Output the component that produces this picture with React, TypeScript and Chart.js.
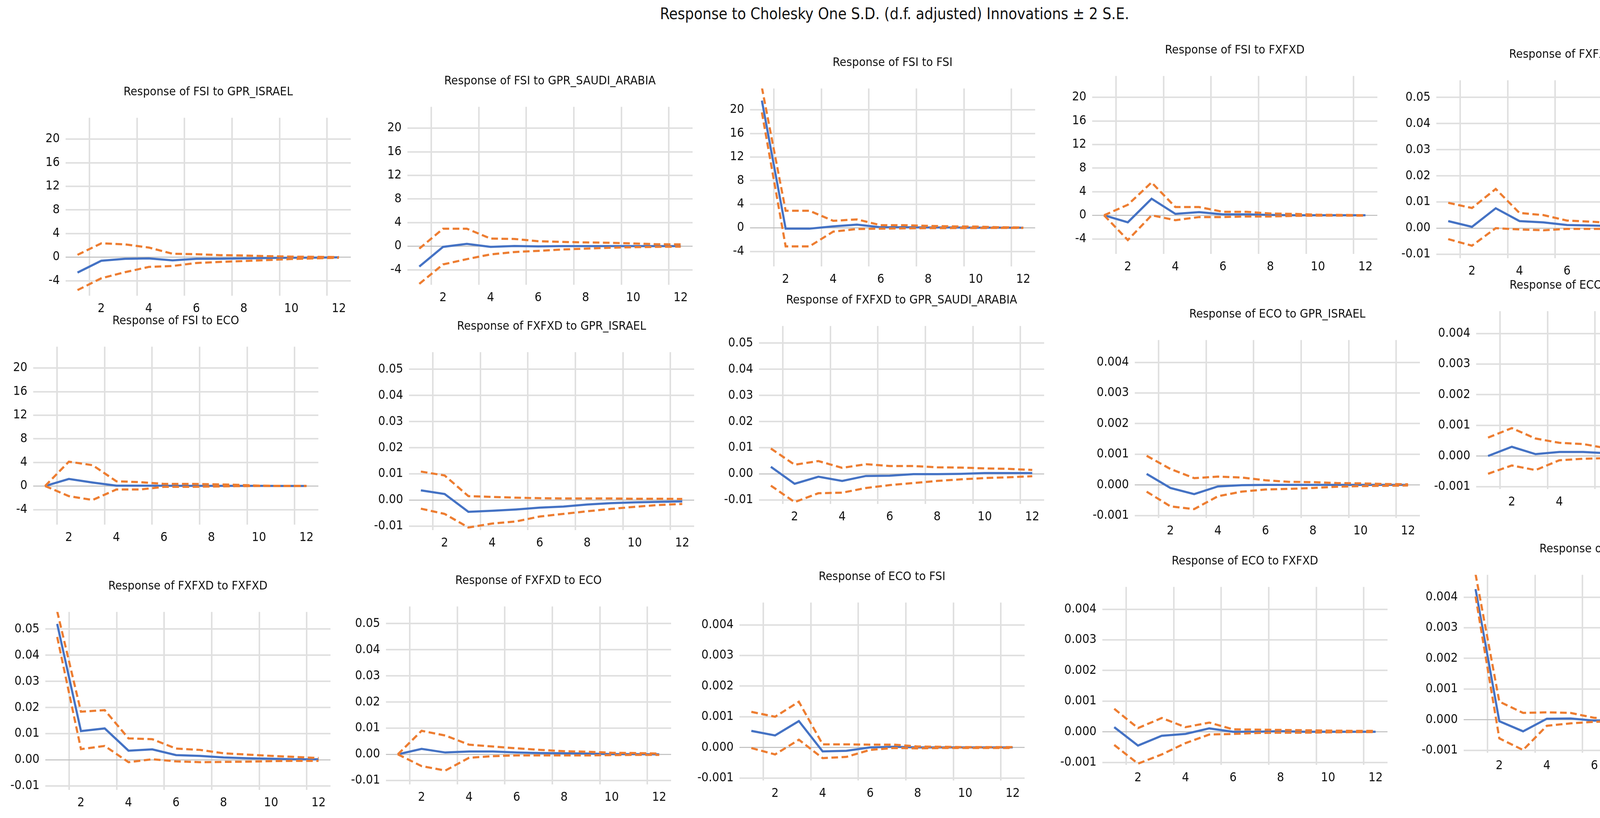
import React, { useEffect, useRef } from 'react';
import { Chart, registerables } from 'chart.js';

Chart.register(...registerables);

// ---------------- data ----------------
const PERIODS = [1, 2, 3, 4, 5, 6, 7, 8, 9, 10, 11, 12];
const X_TICKS = [1.5, 2, 3.5, 4, 5.5, 6, 7.5, 8, 9.5, 10, 11.5, 12];
const FSI_TICKS = [-4, 0, 4, 8, 12, 16, 20];
const FXFXD_TICKS = [-0.01, 0, 0.01, 0.02, 0.03, 0.04, 0.05];
const ECO_TICKS = [-0.001, 0, 0.001, 0.002, 0.003, 0.004];

const MAIN_TITLE = 'Response to Cholesky One S.D. (d.f. adjusted) Innovations \u00b1 2 S.E.';

// Row 1
const fsiIsraelResp = [-2.62, -0.62, -0.29, -0.22, -0.56, -0.29, -0.27, -0.22, -0.16, -0.11, -0.09, -0.04];
const fsiIsraelUpper = [0.38, 2.33, 2.16, 1.62, 0.56, 0.49, 0.33, 0.27, 0.16, 0.07, 0.04, 0.0];
const fsiIsraelLower = [-5.6, -3.6, -2.56, -1.67, -1.51, -1.0, -0.82, -0.67, -0.51, -0.33, -0.22, -0.11];

const fsiSaudiResp = [-3.46, -0.12, 0.39, -0.12, 0.02, -0.05, 0.0, 0.0, 0.0, 0.0, 0.0, 0.0];
const fsiSaudiUpper = [-0.42, 2.96, 2.96, 1.28, 1.22, 0.84, 0.72, 0.63, 0.57, 0.45, 0.33, 0.3];
const fsiSaudiLower = [-6.39, -3.1, -2.2, -1.4, -1.0, -0.8, -0.57, -0.42, -0.27, -0.18, -0.12, -0.09];

const fsiFsiResp = [21.56, -0.15, -0.15, 0.24, 0.53, 0.09, 0.09, 0.06, 0.05, 0.03, 0.02, 0.0];
const fsiFsiUpper = [23.8, 2.89, 2.89, 1.18, 1.42, 0.44, 0.44, 0.32, 0.24, 0.2, 0.09, 0.06];
const fsiFsiLower = [19.56, -3.16, -3.16, -0.65, -0.21, -0.15, -0.09, -0.06, -0.05, -0.04, -0.03, -0.03];

const fsiFxResp = [0, -1.19, 2.81, 0.24, 0.53, 0.15, 0.15, 0.06, 0, 0, 0, 0];
const fsiFxUpper = [0, 1.78, 5.57, 1.39, 1.39, 0.59, 0.59, 0.3, 0.24, 0.09, 0.06, 0];
const fsiFxLower = [0, -4.2, 0, -0.83, -0.3, -0.3, -0.2, -0.2, -0.1, -0.06, -0.06, -0.06];

const fxFsiResp = [0.0027, 0.0005, 0.0076, 0.0027, 0.0022, 0.0012, 0.001, 0.0008, 0.0005, 0.0004, 0.0003, 0.0002];
const fxFsiUpper = [0.0097, 0.0077, 0.015, 0.0058, 0.005, 0.0029, 0.0025, 0.0019, 0.0015, 0.0011, 0.0009, 0.0008];
const fxFsiLower = [-0.0042, -0.0067, 0, -0.0005, -0.0008, -0.0003, -0.0003, -0.0003, -0.0002, -0.0001, -0.0001, -0.0001];

// Row 2
const fsiEcoResp = [0, 1.19, 0.59, 0.06, 0.06, 0.04, 0.03, 0.03, 0.03, 0.02, 0.01, 0];
const fsiEcoUpper = [0, 4.12, 3.53, 0.8, 0.65, 0.36, 0.36, 0.3, 0.21, 0.06, 0, 0];
const fsiEcoLower = [0, -1.72, -2.37, -0.59, -0.59, -0.15, -0.15, -0.09, -0.03, 0, 0, 0];

const fxIsraelResp = [0.0037, 0.0023, -0.0045, -0.0041, -0.0036, -0.0029, -0.0025, -0.0017, -0.0012, -0.0009, -0.0007, -0.0005];
const fxIsraelUpper = [0.0109, 0.0094, 0.0015, 0.0012, 0.0009, 0.0007, 0.0006, 0.0006, 0.0006, 0.0005, 0.0005, 0.0004];
const fxIsraelLower = [-0.0033, -0.0053, -0.0105, -0.009, -0.0082, -0.0063, -0.0053, -0.0043, -0.0034, -0.0026, -0.0019, -0.0015];

const fxSaudiResp = [0.0027, -0.0038, -0.0011, -0.0027, -0.0008, -0.0007, -0.0001, -0.0001, 0, 0.0003, 0.0003, 0.0003];
const fxSaudiUpper = [0.0097, 0.0035, 0.0049, 0.0023, 0.0037, 0.003, 0.003, 0.0025, 0.0024, 0.0021, 0.0019, 0.0015];
const fxSaudiLower = [-0.0045, -0.0108, -0.0074, -0.0072, -0.0054, -0.0043, -0.0035, -0.0027, -0.0021, -0.0016, -0.0013, -0.0009];

const ecoIsraelResp = [0.00036, -0.0001, -0.0003, -0.00005, -0.00001, 0, 0, 0, 0, 0, 0, 0];
const ecoIsraelUpper = [0.00095, 0.00052, 0.00022, 0.00027, 0.00024, 0.00015, 0.0001, 0.00009, 0.00006, 0.00005, 0.00003, 0.00002];
const ecoIsraelLower = [-0.00022, -0.0007, -0.00079, -0.00037, -0.00022, -0.00015, -0.00013, -0.0001, -0.00006, -0.00004, -0.00003, -0.00002];

const ecoSaudiResp = [0, 0.0003, 0.00006, 0.00013, 0.00013, 0.00009, 0.00007, 0.00005, 0.00003, 0.00002, 0.00001, 0];
const ecoSaudiUpper = [0.0006, 0.00091, 0.00057, 0.00043, 0.00039, 0.00025, 0.00019, 0.00016, 0.00013, 0.0001, 0.00009, 0.00005];
const ecoSaudiLower = [-0.00058, -0.00031, -0.00046, -0.00014, -0.00009, -0.00007, -0.00006, -0.00005, -0.00004, -0.00003, -0.00003, -0.00002];

// Row 3
const fxFxResp = [0.052, 0.011, 0.012, 0.0035, 0.004, 0.0018, 0.0015, 0.0009, 0.0006, 0.0004, 0.0002, 0.0002];
const fxFxUpper = [0.0568, 0.0184, 0.019, 0.0082, 0.0079, 0.0043, 0.0038, 0.0025, 0.002, 0.0015, 0.0011, 0.0007];
const fxFxLower = [0.047, 0.0041, 0.0053, -0.0009, 0.0002, -0.0006, -0.0009, -0.0008, -0.0007, -0.0005, -0.0004, -0.0004];

const fxEcoResp = [0, 0.0021, 0.0007, 0.0011, 0.0011, 0.0007, 0.0005, 0.0004, 0.0003, 0.0001, 0.0001, 0];
const fxEcoUpper = [0, 0.009, 0.0072, 0.0037, 0.003, 0.0023, 0.0017, 0.0012, 0.001, 0.0006, 0.0005, 0.0003];
const fxEcoLower = [0, -0.0045, -0.0062, -0.0013, -0.0007, -0.0004, -0.0004, -0.0004, -0.0004, -0.0003, -0.0002, -0.0002];

const ecoFsiResp = [0.00054, 0.00039, 0.00086, -0.00013, -0.00011, 0, 0.00002, 0, 0, 0, 0, 0];
const ecoFsiUpper = [0.00116, 0.001, 0.00149, 0.0001, 0.0001, 0.00009, 0.00009, 0.00003, 0.00002, 0.00001, 0.00001, 0.00001];
const ecoFsiLower = [-0.00002, -0.00023, 0.00025, -0.00035, -0.00031, -0.00008, -0.00002, -0.00003, -0.00002, -0.00002, -0.00002, -0.00002];

const ecoFxResp = [0.00015, -0.00045, -0.00013, -0.00007, 0.00011, 0, 0, 0.00002, 0, 0, 0, 0];
const ecoFxUpper = [0.00075, 0.00012, 0.00045, 0.00015, 0.0003, 0.00008, 0.00007, 0.00006, 0.00005, 0.00004, 0.00003, 0.00003];
const ecoFxLower = [-0.00043, -0.00104, -0.00074, -0.00037, -0.00009, -0.00007, -0.00004, -0.00003, -0.00003, -0.00002, -0.00001, -0.00001];

const ecoEcoResp = [0.00426, -0.00005, -0.00038, 0.00003, 0.00004, -0.00003, -0.00002, -0.00001, 0, 0, 0, 0];
const ecoEcoUpper = [0.00475, 0.00059, 0.00022, 0.00024, 0.00022, 0.00006, 0.00004, 0.00003, 0.00002, 0.00002, 0.00001, 0];
const ecoEcoLower = [0.00402, -0.00061, -0.00099, -0.0002, -0.00012, -0.00007, -0.00005, -0.00003, -0.00002, -0.00001, -0.00001, -0.00002];

type Kind = 'FSI' | 'FXFXD' | 'ECO';
type PanelData = { title: string; kind: Kind; resp: number[]; upper: number[]; lower: number[] };

const PANELS: PanelData[] = [
  { title: 'Response of FSI to GPR_ISRAEL', kind: 'FSI', resp: fsiIsraelResp, upper: fsiIsraelUpper, lower: fsiIsraelLower },
  { title: 'Response of FSI to GPR_SAUDI_ARABIA', kind: 'FSI', resp: fsiSaudiResp, upper: fsiSaudiUpper, lower: fsiSaudiLower },
  { title: 'Response of FSI to FSI', kind: 'FSI', resp: fsiFsiResp, upper: fsiFsiUpper, lower: fsiFsiLower },
  { title: 'Response of FSI to FXFXD', kind: 'FSI', resp: fsiFxResp, upper: fsiFxUpper, lower: fsiFxLower },
  { title: 'Response of FXFXD to FSI', kind: 'FXFXD', resp: fxFsiResp, upper: fxFsiUpper, lower: fxFsiLower },
  { title: 'Response of FSI to ECO', kind: 'FSI', resp: fsiEcoResp, upper: fsiEcoUpper, lower: fsiEcoLower },
  { title: 'Response of FXFXD to GPR_ISRAEL', kind: 'FXFXD', resp: fxIsraelResp, upper: fxIsraelUpper, lower: fxIsraelLower },
  { title: 'Response of FXFXD to GPR_SAUDI_ARABIA', kind: 'FXFXD', resp: fxSaudiResp, upper: fxSaudiUpper, lower: fxSaudiLower },
  { title: 'Response of ECO to GPR_ISRAEL', kind: 'ECO', resp: ecoIsraelResp, upper: ecoIsraelUpper, lower: ecoIsraelLower },
  { title: 'Response of ECO to GPR_SAUDI_ARABIA', kind: 'ECO', resp: ecoSaudiResp, upper: ecoSaudiUpper, lower: ecoSaudiLower },
  { title: 'Response of FXFXD to FXFXD', kind: 'FXFXD', resp: fxFxResp, upper: fxFxUpper, lower: fxFxLower },
  { title: 'Response of FXFXD to ECO', kind: 'FXFXD', resp: fxEcoResp, upper: fxEcoUpper, lower: fxEcoLower },
  { title: 'Response of ECO to FSI', kind: 'ECO', resp: ecoFsiResp, upper: ecoFsiUpper, lower: ecoFsiLower },
  { title: 'Response of ECO to FXFXD', kind: 'ECO', resp: ecoFxResp, upper: ecoFxUpper, lower: ecoFxLower },
  { title: 'Response of ECO to ECO', kind: 'ECO', resp: ecoEcoResp, upper: ecoEcoUpper, lower: ecoEcoLower },
];

// ---------------- layout & style ----------------
// plot-area top-left corner of each panel, in page pixels
const PLOT_POS: [number, number][] = [
  [168, 301], [1043, 273], [1920, 226], [2796, 194], [3677, 205],
  [85, 887], [1047, 901], [1943, 834], [2905, 870], [3779, 796],
  [116, 1566], [988, 1552], [1893, 1542], [2822, 1502], [3747, 1471],
];

const PLOT_W = 730;
const PLOT_H = 455;
const Y_AXIS_W = 130;
const RIGHT_PAD = 30;
const TITLE_PAD_TOP = 6;
const TITLE_SIZE = 31;
const TITLE_PAD_BOTTOM = 50.5;
const TITLE_H = TITLE_PAD_TOP + TITLE_SIZE + TITLE_PAD_BOTTOM;
const X_AXIS_H = 65;
const CANVAS_W = Y_AXIS_W + PLOT_W + RIGHT_PAD;
const CANVAS_H = Math.ceil(TITLE_H + PLOT_H + X_AXIS_H);
const TICK_SIZE = 32;

const FONT = '"DejaVu Sans Condensed", "DejaVu Sans", sans-serif';
const TEXT = '#111111';
const BLUE = '#4472C4';
const ORANGE = '#ED7D31';
const GRID = '#E0E0E0';
const ZERO = '#BDBDBD';

const RANGES: Record<Kind, { min: number; max: number; ticks: number[]; digits: number }> = {
  FSI: { min: -6.55, max: 23.62, ticks: FSI_TICKS, digits: 0 },
  FXFXD: { min: -0.0115, max: 0.05657, ticks: FXFXD_TICKS, digits: 2 },
  ECO: { min: -0.00108, max: 0.004727, ticks: ECO_TICKS, digits: 3 },
};

function toXY(values: number[]) {
  return values.map((y, i) => ({ x: PERIODS[i], y }));
}

function Panel({ data, pos }: { data: PanelData; pos: [number, number] }) {
  const ref = useRef<HTMLCanvasElement>(null);
  useEffect(() => {
    const canvas = ref.current;
    if (!canvas) return;
    const r = RANGES[data.kind];
    const dashed = (values: number[]) => ({
      data: toXY(values),
      borderColor: ORANGE,
      borderWidth: 5.5,
      borderDash: [17, 9],
      pointRadius: 0,
      tension: 0,
      fill: false,
      clip: 0,
    });
    const chart = new Chart(canvas, {
      type: 'line',
      data: {
        datasets: [
          dashed(data.upper) as any,
          dashed(data.lower) as any,
          {
            data: toXY(data.resp),
            borderColor: BLUE,
            borderWidth: 5.5,
            pointRadius: 0,
            tension: 0,
            fill: false,
            clip: 0,
          } as any,
        ],
      },
      options: {
        animation: false,
        responsive: false,
        devicePixelRatio: 1,
        events: [],
        layout: { padding: { left: 0, right: RIGHT_PAD, top: 0, bottom: 0 } },
        plugins: {
          legend: { display: false },
          tooltip: { enabled: false },
          title: {
            display: true,
            text: data.title,
            fullSize: false,
            color: TEXT,
            font: { family: FONT, size: TITLE_SIZE, lineHeight: 1, weight: 'normal' },
            padding: { top: TITLE_PAD_TOP, bottom: TITLE_PAD_BOTTOM },
          },
        },
        scales: {
          x: {
            type: 'linear',
            min: 0.5,
            max: 12.5,
            afterBuildTicks: (s: any) => {
              s.ticks = X_TICKS.map((v) => ({ value: v }));
            },
            afterFit: (s: any) => {
              s.height = X_AXIS_H;
            },
            grid: {
              drawTicks: false,
              lineWidth: 4,
              color: (c: any) => (c.tick && !Number.isInteger(c.tick.value) ? GRID : 'rgba(0,0,0,0)'),
            },
            border: { display: false },
            ticks: {
              autoSkip: false,
              maxRotation: 0,
              padding: 14,
              color: TEXT,
              font: { family: FONT, size: TICK_SIZE },
              callback: (v: any) => (Number.isInteger(v) ? String(v) : ''),
            },
          },
          y: {
            type: 'linear',
            min: r.min,
            max: r.max,
            afterBuildTicks: (s: any) => {
              s.ticks = r.ticks.map((v) => ({ value: v }));
            },
            afterFit: (s: any) => {
              s.width = Y_AXIS_W;
            },
            grid: {
              drawTicks: false,
              lineWidth: (c: any) => (c.tick && c.tick.value === 0 ? 2.5 : 4),
              color: (c: any) => (c.tick && c.tick.value === 0 ? ZERO : GRID),
            },
            border: { display: false },
            ticks: {
              autoSkip: false,
              padding: 15,
              color: TEXT,
              font: { family: FONT, size: TICK_SIZE },
              callback: (v: any) => Number(v).toFixed(r.digits),
            },
          },
        },
      } as any,
    });
    return () => chart.destroy();
  }, [data]);
  return (
    <canvas
      ref={ref}
      width={CANVAS_W}
      height={CANVAS_H}
      style={{
        position: 'absolute',
        left: pos[0] - Y_AXIS_W,
        top: pos[1] - TITLE_H,
        width: CANVAS_W,
        height: CANVAS_H,
      }}
    />
  );
}

export default function App() {
  return (
    <div
      style={{
        position: 'absolute',
        left: 0,
        top: 0,
        width: 4533,
        height: 2094,
        overflow: 'hidden',
        background: '#ffffff',
      }}
    >
      <div
        style={{
          position: 'absolute',
          left: 0,
          top: 14,
          width: 4580,
          textAlign: 'center',
          fontFamily: FONT,
          fontSize: 40,
          lineHeight: '42px',
          color: TEXT,
          whiteSpace: 'nowrap',
        }}
      >
        {MAIN_TITLE}
      </div>
      {PANELS.map((p, i) => (
        <Panel key={p.title} data={p} pos={PLOT_POS[i]} />
      ))}
    </div>
  );
}
